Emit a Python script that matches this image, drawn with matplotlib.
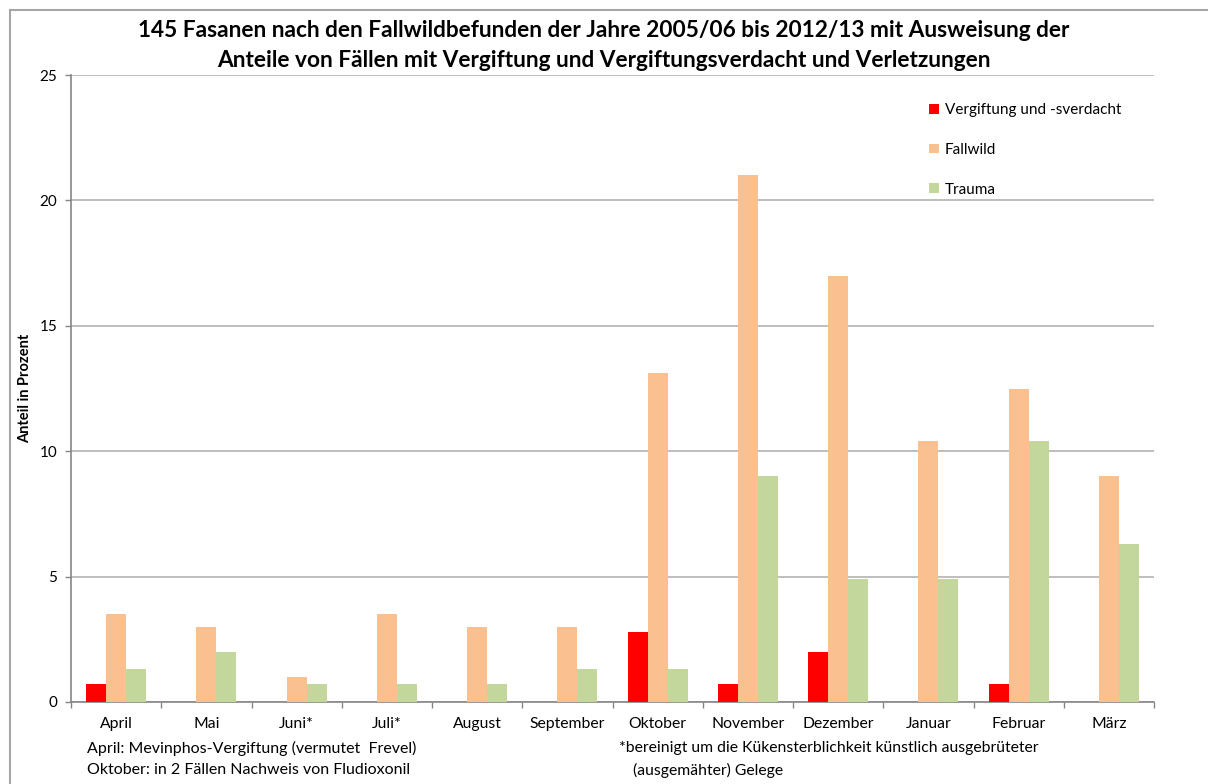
import numpy as np
import matplotlib.pyplot as plt
from matplotlib.lines import Line2D

plt.rcParams['font.family'] = ['Lato', 'DejaVu Sans']

# Monate und Anteile in Prozent
monate = ['April', 'Mai', 'Juni*', 'Juli*', 'August', 'September', 'Oktober',
          'November', 'Dezember', 'Januar', 'Februar', 'März']
vergiftung = [0.7, 0, 0, 0, 0, 0, 2.8, 0.7, 2.0, 0, 0.7, 0]
fallwild = [3.5, 3.0, 1.0, 3.5, 3.0, 3.0, 13.1, 21.0, 17.0, 10.4, 12.5, 9.0]
trauma = [1.3, 2.0, 0.7, 0.7, 0.7, 1.3, 1.3, 9.0, 4.9, 4.9, 10.4, 6.3]

serien = ['Vergiftung und -sverdacht', 'Fallwild', 'Trauma']
farben = ['#FF0000', '#FAC090', '#C3D69B']

fig = plt.figure(figsize=(12.08, 7.84), dpi=100)
ax = fig.add_axes([0.0588, 0.1046, 0.8965, 0.7997])

x = np.arange(len(monate))
b = 0.221
for i, (werte, name, farbe) in enumerate(zip([vergiftung, fallwild, trauma], serien, farben)):
    ax.bar(x + (i - 1) * b, werte, width=b, color=farbe, label=name, zorder=3)

ax.set_xlim(-0.5, 11.5)
ax.set_ylim(0, 25)
ax.set_yticks([0, 5, 10, 15, 20, 25])
ax.grid(axis='y', color='#b3b3b3', linewidth=1.2, zorder=0)

ax.set_xticks(x)
ax.set_xticklabels(monate, fontsize=11.3)
ax.set_xticks(np.arange(-0.5, 12, 1), minor=True)
ax.tick_params(axis='x', which='major', length=0, pad=11)
ax.tick_params(axis='x', which='minor', length=4, color='#868686', width=1)
ax.tick_params(axis='y', length=4, color='#868686', width=1, labelsize=11, pad=6)

for s in ['top', 'right']:
    ax.spines[s].set_visible(False)
for s in ['left', 'bottom']:
    ax.spines[s].set_color('#868686')
    ax.spines[s].set_linewidth(1.2)

ax.set_ylabel('Anteil in Prozent', fontsize=10.5, fontweight='bold', labelpad=5)

leg = ax.legend(loc='upper left', bbox_to_anchor=(0.78, 0.977), frameon=False,
                fontsize=11, handlelength=0.6, handleheight=0.6, handletextpad=0.4,
                labelspacing=1.68)

fig.text(0.5, 0.961, '145 Fasanen nach den Fallwildbefunden der Jahre 2005/06 bis 2012/13 mit Ausweisung der',
         ha='center', va='center', fontsize=16.3, fontweight='bold')
fig.text(0.5, 0.923, 'Anteile von Fällen mit Vergiftung und Vergiftungsverdacht und Verletzungen',
         ha='center', va='center', fontsize=16.3, fontweight='bold')

fig.text(87 / 1208, 1 - 748 / 784, 'April: Mevinphos-Vergiftung (vermutet  Frevel)',
         ha='left', va='center', fontsize=11.5)
fig.text(87 / 1208, 1 - 770 / 784, 'Oktober: in 2 Fällen Nachweis von Fludioxonil',
         ha='left', va='center', fontsize=11.5)
fig.text(619 / 1208, 1 - 748 / 784, '*bereinigt um die Kükensterblichkeit künstlich ausgebrüteter',
         ha='left', va='center', fontsize=11.3)
fig.text(633 / 1208, 1 - 770 / 784, '(ausgemähter) Gelege',
         ha='left', va='center', fontsize=11.3)

# Rahmen um das Diagramm
fig.add_artist(Line2D([10 / 1208, 1], [1 - 10 / 784, 1 - 10 / 784], color='#a6a6a6', lw=1.5))
fig.add_artist(Line2D([10 / 1208, 10 / 1208], [0, 1 - 10 / 784], color='#a6a6a6', lw=1.5))

fig.savefig('out.png', dpi=100)
